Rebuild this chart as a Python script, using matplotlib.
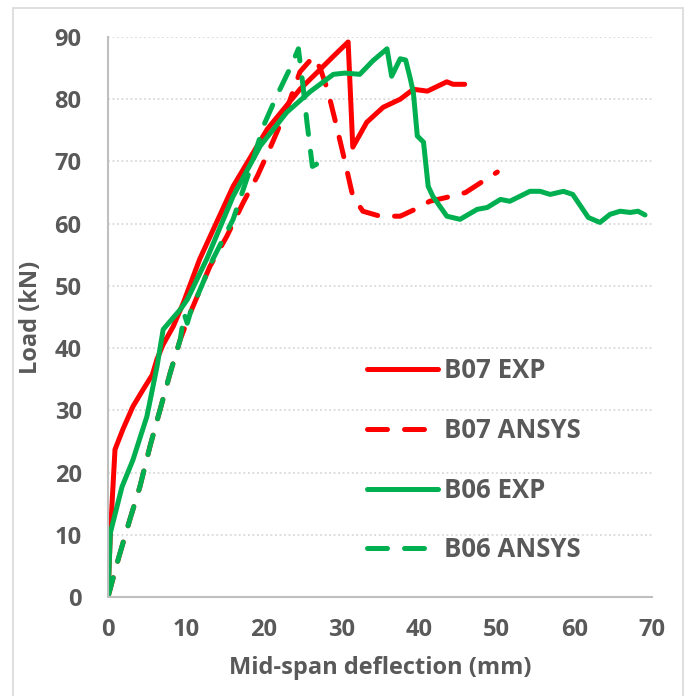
import matplotlib
matplotlib.use("Agg")
import matplotlib.pyplot as plt
from matplotlib.patches import Rectangle

# Datos (deflexion en mm, carga en kN)
b07_exp_x = [0, 0.3, 0.9, 1.9, 3.2, 4.5, 5.7, 6.3, 7.1, 8.4, 9.7, 11.8, 16.1, 20.5,
             24.7, 26.9, 29.0, 30.9, 31.5, 33.3, 35.4, 37.6, 39.3, 41.1, 43.6, 44.4, 45.9]
b07_exp_y = [0, 10, 23.7, 26.9, 30.6, 33.3, 35.7, 38.2, 40.6, 43.5, 47.3, 54.3, 66.0, 75.2,
             81.6, 84.3, 86.9, 89.2, 72.3, 76.3, 78.7, 80.0, 81.6, 81.3, 82.8, 82.4, 82.4]

b07_ansys_x = [0, 1.3, 2.8, 4.1, 5.4, 6.7, 8.0, 9.3, 10.6, 13.1, 15.3, 17.4, 19.2, 20.8,
               23.0, 24.7, 26.4, 27.3, 28.3, 29.5, 30.5, 31.5, 32.8, 35.0, 37.6, 39.5,
               41.4, 43.5, 46.0, 48.1, 50.1]
b07_ansys_y = [0, 6.0, 12.4, 17.7, 24.2, 30.1, 36.0, 41.4, 45.7, 53.1, 58.0, 63.4, 67.6, 72.0,
               78.4, 84.4, 86.8, 85.0, 81.3, 75.2, 69.9, 64.4, 62.0, 61.2, 61.2, 62.3,
               63.6, 64.2, 65.0, 66.7, 68.3]

b06_exp_x = [0, 0.3, 1.8, 3.2, 5.0, 6.3, 7.1, 8.2, 9.3, 10.2, 12.7, 16.1, 19.6, 23.0, 26.0,
             29.0, 30.5, 32.4, 34.1, 35.9, 36.5, 37.6, 38.3, 38.9, 39.3, 39.8, 40.6, 41.2,
             41.8, 42.7, 43.6, 45.3, 47.5, 48.8, 50.5, 51.7, 54.3, 55.6, 56.9, 58.6, 59.8,
             61.1, 61.8, 63.3, 64.6, 65.9, 67.2, 68.2, 69.1]
b06_exp_y = [0, 10.3, 17.7, 22.0, 29.0, 37.0, 43.0, 44.6, 46.2, 47.8, 54.3, 64.4, 72.5, 77.9, 81.2,
             84.0, 84.2, 84.0, 86.2, 88.1, 83.7, 86.5, 86.3, 83.3, 81.0, 74.1, 73.1, 66.0,
             64.4, 62.8, 61.2, 60.7, 62.3, 62.6, 63.9, 63.6, 65.2, 65.2, 64.7, 65.2, 64.7,
             62.3, 61.0, 60.2, 61.5, 62.0, 61.8, 62.0, 61.4]

b06_ansys_x = [0, 1.3, 2.8, 4.1, 5.4, 6.7, 8.0, 9.3, 9.8, 10.2, 10.6, 13.5, 16.1, 18.3, 20.0,
               21.7, 23.4, 24.5, 25.1, 25.6, 26.3, 26.9]
b06_ansys_y = [0, 6.0, 12.4, 17.7, 24.2, 30.1, 36.0, 41.4, 45.5, 44.0, 45.7, 54.3, 60.7, 68.8, 75.7,
               80.5, 84.9, 88.1, 82.1, 76.3, 69.2, 69.6]

ROJO = "#FF0000"
VERDE = "#00B050"
GRIS = "#595959"
FUENTE = "Open Sans"
TAM = 17
TAM_LEY = 18.5

fig = plt.figure(figsize=(6.92, 6.96), dpi=100)
ax = fig.add_axes([108 / 692, 1 - 597 / 696, (652 - 108) / 692, (597 - 37) / 696])

# Borde del area del grafico
fig.patches.append(Rectangle((13 / 692, -0.05), (683 - 13) / 692, 1.05 - 8 / 696,
                             transform=fig.transFigure, fill=False,
                             edgecolor="#D9D9D9", linewidth=1.2))

guion = (0, (4.0, 3.4))
estilo = dict(linewidth=3.6, solid_capstyle="round", dash_capstyle="round",
              solid_joinstyle="round")
ax.plot(b07_exp_x, b07_exp_y, color=ROJO, label="B07 EXP", **estilo)
ax.plot(b07_ansys_x, b07_ansys_y, color=ROJO, linestyle=guion, label="B07 ANSYS", **estilo)
ax.plot(b06_exp_x, b06_exp_y, color=VERDE, label="B06 EXP", **estilo)
ax.plot(b06_ansys_x, b06_ansys_y, color=VERDE, linestyle=guion, label="B06 ANSYS", **estilo)

ax.set_xlim(0, 70)
ax.set_ylim(0, 90)
ax.set_xticks(range(0, 71, 10))
ax.set_yticks(range(0, 91, 10))
ax.grid(axis="y", color="#D9D9D9", linestyle=(0, (1, 1.5)), linewidth=1.3)
ax.set_axisbelow(True)

for lado in ["top", "right"]:
    ax.spines[lado].set_visible(False)
for lado in ["left", "bottom"]:
    ax.spines[lado].set_color("#BFBFBF")
    ax.spines[lado].set_linewidth(1.5)

ax.tick_params(length=0, labelsize=TAM, labelcolor=GRIS)
ax.tick_params(axis="y", pad=19)
ax.tick_params(axis="x", pad=15)
for t in ax.get_xticklabels() + ax.get_yticklabels():
    t.set_fontfamily(FUENTE)
    t.set_fontweight("bold")

ax.set_xlabel("Mid-span deflection (mm)", fontsize=TAM, fontweight="bold",
              color=GRIS, fontfamily=FUENTE, labelpad=10)
ax.set_ylabel("Load (kN)", fontsize=TAM, fontweight="bold",
              color=GRIS, fontfamily=FUENTE, labelpad=8)

ax.legend(loc="center left", bbox_to_anchor=(0.434, 0.244), frameon=False,
          handlelength=2.75, handletextpad=0.25, labelspacing=1.27,
          prop={"family": FUENTE, "weight": "bold", "size": TAM_LEY},
          labelcolor=GRIS)

plt.savefig("out.png", dpi=100)
